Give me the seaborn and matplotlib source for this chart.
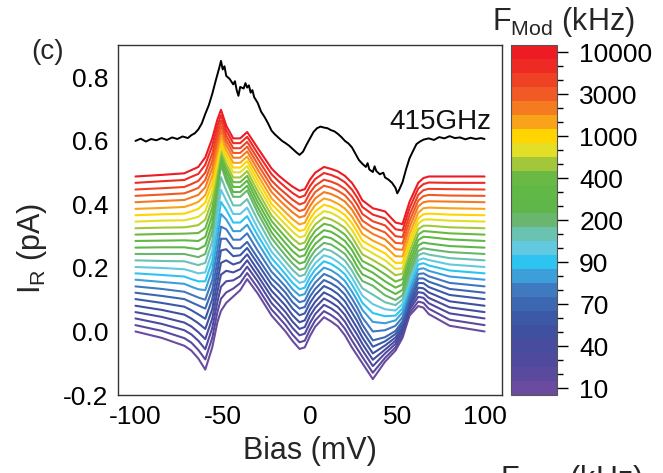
import numpy as np
import pandas as pd
import matplotlib
matplotlib.use("Agg")
import matplotlib.pyplot as plt
import seaborn as sns
from matplotlib.colors import ListedColormap, Normalize
from matplotlib.cm import ScalarMappable

# ---------------- data ----------------
# bias knots (mV) shared by the 25 modulation-frequency curves
bias_knots = [-100, -85, -72, -68, -64, -60, -56, -53, -51, -48, -44, -40, -36, -30,
              -22, -18, -14, -10, -6, -3, 0, 3, 8, 12, 16, 20, 24, 27, 30, 36, 43,
              49, 53, 57, 62, 65, 68, 80, 100]

# flat level of each curve (pA), from 10 kHz (bottom) to 10000 kHz (top)
baseline_offsets = [0.000, 0.020, 0.041, 0.061, 0.081, 0.102, 0.122, 0.142, 0.163,
                    0.183, 0.203, 0.224, 0.244, 0.264, 0.285, 0.305, 0.325, 0.346,
                    0.366, 0.386, 0.407, 0.427, 0.447, 0.468, 0.488]

# deviation from the flat level; one row per bias knot, one column per curve
deviation_table = [
    # -100
    [0.000, 0.000, 0.000, 0.000, 0.000, 0.000, 0.000, 0.000, 0.000, 0.000, 0.000, 0.000, 0.000, 0.000, 0.000, 0.000, 0.000, 0.000, 0.000, 0.000, 0.000, 0.000, 0.000, 0.000, 0.000],
    # -85
    [-0.020, -0.018, -0.017, -0.015, -0.013, -0.012, -0.010, -0.008, -0.007, -0.005, -0.003, -0.002, 0.000, 0.001, 0.001, 0.002, 0.002, 0.003, 0.003, 0.003, 0.004, 0.004, 0.004, 0.005, 0.005],
    # -72
    [-0.045, -0.041, -0.037, -0.033, -0.028, -0.024, -0.020, -0.017, -0.013, -0.010, -0.007, -0.003, 0.000, 0.001, 0.002, 0.003, 0.003, 0.004, 0.005, 0.006, 0.007, 0.008, 0.008, 0.009, 0.010],
    # -68
    [-0.060, -0.055, -0.050, -0.045, -0.040, -0.035, -0.030, -0.026, -0.022, -0.018, -0.013, -0.009, -0.005, -0.002, 0.001, 0.004, 0.006, 0.009, 0.012, 0.013, 0.015, 0.016, 0.017, 0.019, 0.020],
    # -64
    [-0.085, -0.078, -0.070, -0.063, -0.055, -0.048, -0.040, -0.035, -0.030, -0.025, -0.020, -0.015, -0.010, -0.005, 0.000, 0.005, 0.010, 0.015, 0.020, 0.022, 0.023, 0.025, 0.027, 0.028, 0.030],
    # -60
    [-0.120, -0.108, -0.097, -0.085, -0.073, -0.062, -0.050, -0.042, -0.033, -0.025, -0.017, -0.008, 0.000, 0.007, 0.013, 0.020, 0.027, 0.033, 0.040, 0.043, 0.047, 0.050, 0.053, 0.057, 0.060],
    # -56
    [-0.050, -0.040, -0.030, -0.020, -0.010, 0.000, 0.010, 0.020, 0.030, 0.040, 0.050, 0.060, 0.070, 0.075, 0.080, 0.085, 0.090, 0.095, 0.100, 0.103, 0.107, 0.110, 0.113, 0.117, 0.120],
    # -53
    [0.030, 0.042, 0.053, 0.065, 0.077, 0.088, 0.100, 0.117, 0.133, 0.150, 0.167, 0.183, 0.200, 0.197, 0.193, 0.190, 0.187, 0.183, 0.180, 0.180, 0.180, 0.180, 0.180, 0.180, 0.180],
    # -51
    [0.065, 0.083, 0.100, 0.118, 0.135, 0.153, 0.170, 0.188, 0.207, 0.225, 0.243, 0.262, 0.280, 0.272, 0.263, 0.255, 0.247, 0.238, 0.230, 0.227, 0.223, 0.220, 0.217, 0.213, 0.210],
    # -48
    [0.090, 0.103, 0.117, 0.130, 0.143, 0.157, 0.170, 0.180, 0.190, 0.200, 0.210, 0.220, 0.230, 0.223, 0.217, 0.210, 0.203, 0.197, 0.190, 0.185, 0.180, 0.175, 0.170, 0.165, 0.160],
    # -44
    [0.110, 0.115, 0.120, 0.125, 0.130, 0.135, 0.140, 0.147, 0.153, 0.160, 0.167, 0.173, 0.180, 0.175, 0.170, 0.165, 0.160, 0.155, 0.150, 0.145, 0.140, 0.135, 0.130, 0.125, 0.120],
    # -40
    [0.130, 0.132, 0.133, 0.135, 0.137, 0.138, 0.140, 0.147, 0.153, 0.160, 0.167, 0.173, 0.180, 0.175, 0.170, 0.165, 0.160, 0.155, 0.150, 0.145, 0.140, 0.135, 0.130, 0.125, 0.120],
    # -36
    [0.165, 0.164, 0.163, 0.163, 0.162, 0.161, 0.160, 0.167, 0.173, 0.180, 0.187, 0.193, 0.200, 0.195, 0.190, 0.185, 0.180, 0.175, 0.170, 0.165, 0.160, 0.155, 0.150, 0.145, 0.140],
    # -30
    [0.120, 0.118, 0.117, 0.115, 0.113, 0.112, 0.110, 0.113, 0.117, 0.120, 0.123, 0.127, 0.130, 0.127, 0.123, 0.120, 0.117, 0.113, 0.110, 0.107, 0.103, 0.100, 0.097, 0.093, 0.090],
    # -22
    [0.050, 0.049, 0.048, 0.048, 0.047, 0.046, 0.045, 0.046, 0.047, 0.048, 0.048, 0.049, 0.050, 0.048, 0.045, 0.043, 0.040, 0.038, 0.035, 0.033, 0.032, 0.030, 0.028, 0.027, 0.025],
    # -18
    [0.025, 0.025, 0.025, 0.024, 0.024, 0.024, 0.024, 0.023, 0.023, 0.023, 0.023, 0.022, 0.022, 0.020, 0.019, 0.017, 0.016, 0.014, 0.013, 0.011, 0.009, 0.008, 0.006, 0.005, 0.003],
    # -14
    [0.000, 0.000, 0.000, 0.000, 0.000, 0.000, 0.000, -0.001, -0.002, -0.003, -0.003, -0.004, -0.005, -0.006, -0.007, -0.008, -0.008, -0.009, -0.010, -0.011, -0.012, -0.013, -0.013, -0.014, -0.015],
    # -10
    [-0.030, -0.030, -0.030, -0.030, -0.030, -0.030, -0.030, -0.030, -0.030, -0.030, -0.030, -0.030, -0.030, -0.032, -0.032, -0.032, -0.032, -0.032, -0.032, -0.032, -0.032, -0.032, -0.032, -0.032, -0.032],
    # -6
    [-0.055, -0.054, -0.053, -0.053, -0.052, -0.051, -0.050, -0.050, -0.050, -0.050, -0.050, -0.050, -0.050, -0.050, -0.050, -0.050, -0.050, -0.050, -0.050, -0.049, -0.048, -0.048, -0.047, -0.046, -0.045],
    # -3
    [-0.050, -0.049, -0.048, -0.047, -0.046, -0.045, -0.045, -0.045, -0.045, -0.045, -0.045, -0.045, -0.045, -0.045, -0.045, -0.045, -0.045, -0.045, -0.045, -0.044, -0.043, -0.042, -0.041, -0.040, -0.040],
    # 0
    [-0.014, -0.014, -0.014, -0.012, -0.012, -0.012, -0.012, -0.012, -0.012, -0.012, -0.012, -0.012, -0.012, -0.012, -0.012, -0.012, -0.012, -0.012, -0.012, -0.012, -0.012, -0.012, -0.010, -0.010, -0.010],
    # 3
    [0.015, 0.015, 0.014, 0.014, 0.013, 0.013, 0.012, 0.012, 0.012, 0.012, 0.012, 0.012, 0.012, 0.012, 0.012, 0.012, 0.012, 0.012, 0.012, 0.012, 0.012, 0.012, 0.012, 0.012, 0.012],
    # 8
    [0.045, 0.044, 0.043, 0.043, 0.042, 0.041, 0.040, 0.039, 0.038, 0.038, 0.037, 0.036, 0.035, 0.035, 0.034, 0.034, 0.034, 0.033, 0.033, 0.033, 0.032, 0.032, 0.031, 0.031, 0.030],
    # 12
    [0.032, 0.032, 0.032, 0.031, 0.031, 0.031, 0.030, 0.030, 0.030, 0.030, 0.030, 0.030, 0.030, 0.030, 0.029, 0.029, 0.028, 0.028, 0.027, 0.027, 0.026, 0.026, 0.025, 0.025, 0.024],
    # 16
    [0.016, 0.016, 0.016, 0.016, 0.016, 0.016, 0.016, 0.016, 0.016, 0.016, 0.016, 0.016, 0.016, 0.016, 0.016, 0.016, 0.016, 0.016, 0.016, 0.016, 0.016, 0.016, 0.016, 0.016, 0.016],
    # 20
    [-0.012, -0.011, -0.010, -0.009, -0.008, -0.007, -0.006, -0.005, -0.004, -0.003, -0.002, -0.001, 0.000, 0.000, 0.000, 0.000, 0.001, 0.001, 0.001, 0.001, 0.002, 0.002, 0.002, 0.002, 0.002],
    # 24
    [-0.050, -0.048, -0.047, -0.045, -0.043, -0.042, -0.040, -0.038, -0.037, -0.035, -0.033, -0.032, -0.030, -0.029, -0.028, -0.028, -0.027, -0.026, -0.025, -0.024, -0.023, -0.023, -0.022, -0.021, -0.020],
    # 27
    [-0.075, -0.074, -0.072, -0.071, -0.070, -0.069, -0.067, -0.066, -0.065, -0.063, -0.062, -0.061, -0.060, -0.059, -0.057, -0.056, -0.055, -0.054, -0.052, -0.051, -0.050, -0.049, -0.047, -0.046, -0.045],
    # 30
    [-0.100, -0.100, -0.100, -0.100, -0.100, -0.100, -0.100, -0.098, -0.095, -0.093, -0.090, -0.088, -0.085, -0.084, -0.083, -0.083, -0.082, -0.081, -0.080, -0.079, -0.078, -0.078, -0.077, -0.076, -0.075],
    # 36
    [-0.150, -0.150, -0.150, -0.150, -0.150, -0.150, -0.150, -0.142, -0.133, -0.125, -0.117, -0.108, -0.100, -0.100, -0.100, -0.100, -0.100, -0.100, -0.100, -0.100, -0.100, -0.100, -0.100, -0.100, -0.100],
    # 43
    [-0.095, -0.103, -0.110, -0.118, -0.125, -0.133, -0.140, -0.138, -0.137, -0.135, -0.133, -0.132, -0.130, -0.128, -0.127, -0.125, -0.123, -0.122, -0.120, -0.118, -0.117, -0.115, -0.113, -0.112, -0.110],
    # 49
    [-0.060, -0.070, -0.080, -0.090, -0.100, -0.110, -0.120, -0.124, -0.128, -0.133, -0.137, -0.141, -0.145, -0.146, -0.147, -0.148, -0.148, -0.149, -0.150, -0.149, -0.148, -0.148, -0.147, -0.146, -0.145],
    # 53
    [-0.020, -0.032, -0.043, -0.055, -0.067, -0.078, -0.090, -0.097, -0.103, -0.110, -0.117, -0.123, -0.130, -0.133, -0.137, -0.140, -0.143, -0.147, -0.150, -0.150, -0.150, -0.150, -0.150, -0.150, -0.150],
    # 57
    [0.050, 0.038, 0.027, 0.015, 0.003, -0.008, -0.020, -0.027, -0.033, -0.040, -0.047, -0.053, -0.060, -0.063, -0.067, -0.070, -0.073, -0.077, -0.080, -0.080, -0.080, -0.080, -0.080, -0.080, -0.080],
    # 62
    [0.080, 0.074, 0.068, 0.063, 0.057, 0.051, 0.045, 0.039, 0.033, 0.028, 0.022, 0.016, 0.010, 0.007, 0.003, 0.000, -0.003, -0.007, -0.010, -0.012, -0.013, -0.015, -0.017, -0.018, -0.020],
    # 65
    [0.075, 0.070, 0.065, 0.060, 0.055, 0.050, 0.045, 0.041, 0.036, 0.032, 0.027, 0.023, 0.018, 0.016, 0.013, 0.011, 0.008, 0.006, 0.003, 0.002, 0.000, -0.001, -0.002, -0.004, -0.005],
    # 68
    [0.055, 0.052, 0.048, 0.045, 0.042, 0.038, 0.035, 0.032, 0.028, 0.025, 0.022, 0.018, 0.015, 0.013, 0.012, 0.010, 0.008, 0.007, 0.005, 0.004, 0.003, 0.003, 0.002, 0.001, 0.000],
    # 80
    [0.018, 0.017, 0.016, 0.015, 0.014, 0.013, 0.012, 0.011, 0.010, 0.009, 0.008, 0.007, 0.006, 0.005, 0.005, 0.004, 0.003, 0.003, 0.002, 0.002, 0.002, 0.001, 0.001, 0.000, 0.000],
    # 100
    [0.000, 0.000, 0.000, 0.000, 0.000, 0.000, 0.000, 0.000, 0.000, 0.000, 0.000, 0.000, 0.000, 0.000, 0.000, 0.000, 0.000, 0.000, 0.000, 0.000, 0.000, 0.000, 0.000, 0.000, 0.000],
]

# 415 GHz reference trace (black)
black_bias = [-100, -97, -94, -91, -88, -85, -82, -79, -76, -73, -70, -68, -66, -64, -62,
              -60, -58, -56, -54, -52, -51, -50, -49, -48, -46, -44, -43, -42, -41, -40,
              -38, -37, -36, -35, -34, -33, -32, -30, -28, -26, -24, -22, -20, -18, -16,
              -14, -12, -10, -8, -6, -4, -2, 0, 2, 4, 6, 8, 10, 12, 14, 16, 18, 20, 22,
              24, 26, 28, 30, 32, 33, 34, 36, 37, 38, 40, 42, 43, 45, 47, 49, 50, 51, 53,
              55, 57, 59, 61, 63, 65, 68, 71, 74, 77, 80, 83, 86, 89, 92, 95, 98, 100]
black_current = [0.600, 0.607, 0.598, 0.606, 0.602, 0.609, 0.603, 0.611, 0.606, 0.614,
                 0.609, 0.618, 0.624, 0.636, 0.655, 0.685, 0.712, 0.748, 0.790, 0.830,
                 0.852, 0.825, 0.835, 0.805, 0.795, 0.778, 0.788, 0.760, 0.742, 0.770,
                 0.765, 0.782, 0.768, 0.775, 0.752, 0.760, 0.738, 0.720, 0.692, 0.675,
                 0.655, 0.632, 0.620, 0.610, 0.600, 0.593, 0.585, 0.575, 0.565, 0.556,
                 0.566, 0.588, 0.608, 0.628, 0.640, 0.645, 0.642, 0.640, 0.634, 0.630,
                 0.622, 0.612, 0.600, 0.592, 0.580, 0.560, 0.540, 0.528, 0.518, 0.530,
                 0.510, 0.502, 0.520, 0.505, 0.495, 0.500, 0.485, 0.478, 0.468, 0.452,
                 0.435, 0.445, 0.470, 0.510, 0.545, 0.568, 0.590, 0.598, 0.604, 0.608,
                 0.603, 0.612, 0.608, 0.615, 0.609, 0.611, 0.605, 0.610, 0.606, 0.609,
                 0.606]

# curve colours, 10 kHz (bottom) -> 10000 kHz (top)
curve_colors = ["#6A4BA0", "#5A4A9E", "#4F4A9E", "#474C9F", "#3F50A1", "#3C59A7",
                "#3D67B0", "#3F79BF", "#3D9FD9", "#2EC4F1", "#62C9E0", "#6AC2B1",
                "#6AB66E", "#5FB749", "#61B846", "#6AB944", "#A3C73B", "#E2DF26",
                "#FFD400", "#F9A31B", "#F47B20", "#F15A24", "#EF4123", "#EE2A24",
                "#ED1C24"]
curve_names = ["curve%02d" % k for k in range(len(curve_colors))]

cbar_labels = ["10", "", "", "40", "", "", "70", "", "", "90", "", "", "200", "", "",
               "400", "", "", "1000", "", "", "3000", "", "", "10000"]

# ---------------- long table for seaborn ----------------
records = []
for k, b in enumerate(bias_knots):
    for i, name in enumerate(curve_names):
        records.append((name, b, baseline_offsets[i] + deviation_table[k][i]))
df = pd.DataFrame(records, columns=["curve", "bias", "current"])

# ---------------- style ----------------
sns.set_theme(style="white")
plt.rcParams["font.family"] = ["Liberation Sans", "DejaVu Sans"]
plt.rcParams["mathtext.fontset"] = "custom"
plt.rcParams["mathtext.rm"] = "Liberation Sans"
plt.rcParams["mathtext.it"] = "Liberation Sans:italic"
plt.rcParams["axes.unicode_minus"] = False

W, H = 663, 473
fig = plt.figure(figsize=(W / 100, H / 100), dpi=100)
ax = fig.add_axes([118 / W, 1 - 395 / H, (502 - 118) / W, (395 - 45) / H])

sns.lineplot(data=df, x="bias", y="current", hue="curve", hue_order=curve_names,
             palette=curve_colors, estimator=None, sort=False, legend=False,
             linewidth=1.5, solid_joinstyle="round", ax=ax)
sns.lineplot(x=black_bias, y=black_current, color="black", estimator=None,
             sort=False, linewidth=1.4, ax=ax)

ax.set_xlim(-110, 110)
ax.set_ylim(-0.2, 0.902)
ax.set_xticks([-100, -50, 0, 50, 100])
ax.set_xticks([-75, -25, 25, 75], minor=True)
ax.set_yticks([-0.2, 0.0, 0.2, 0.4, 0.6, 0.8])
ax.set_yticks([-0.1, 0.1, 0.3, 0.5, 0.7], minor=True)
ax.set_xticklabels(["-100", "-50", "0", "50", "100"])
ax.set_yticklabels(["-0.2", "0.0", "0.2", "0.4", "0.6", "0.8"])
ax.tick_params(which="major", direction="in", length=8, width=1.0, labelsize=19,
               pad=7, top=False, right=False, colors="black")
ax.tick_params(which="minor", direction="in", length=5, width=1.0,
               top=False, right=False, colors="black")
for s in ax.spines.values():
    s.set_color("#333333")
    s.set_linewidth(1.0)

ax.set_xlabel("Bias (mV)", fontsize=22, labelpad=5)
ax.set_ylabel("I$_\\mathrm{R}$ (pA)", fontsize=22)
ax.yaxis.set_label_coords(-0.18, 0.42)

ax.text(104, 0.66, "415GHz", fontsize=20, ha="right", va="center", color="#111111")
fig.text(48 / W, 1 - 52 / H, "(c)", fontsize=20, ha="center", va="center")

# ---------------- colour bar ----------------
cax = fig.add_axes([511 / W, 1 - 395 / H, 46 / W, 350 / H])
sm = ScalarMappable(norm=Normalize(-0.5, len(curve_colors) - 0.5),
                    cmap=ListedColormap(curve_colors))
cb = fig.colorbar(sm, cax=cax)
major_pos = [k for k, lab in enumerate(cbar_labels) if lab]
minor_pos = [k for k, lab in enumerate(cbar_labels) if not lab]
cb.set_ticks(major_pos)
cb.set_ticklabels([cbar_labels[k] for k in major_pos])
cax.set_yticks(minor_pos, minor=True)
cax.tick_params(which="major", direction="out", length=8, width=1.0, labelsize=19,
                pad=8, colors="black")
cax.tick_params(which="minor", direction="out", length=4.5, width=1.0, colors="black")
cb.outline.set_edgecolor("#555555")
cb.outline.set_linewidth(0.8)

fig.text(492 / W, 1 - 30 / H, "F$_\\mathrm{Mod}$ (kHz)", fontsize=22,
         ha="left", va="baseline")

# partially visible colour-bar title of the panel below (cut by the image edge)
fig.text(500 / W, 1 - 463 / H, "F$_\\mathrm{Mod}$ (kHz)", fontsize=22,
         ha="left", va="top")

fig.savefig("out.png", dpi=100, facecolor="white")
